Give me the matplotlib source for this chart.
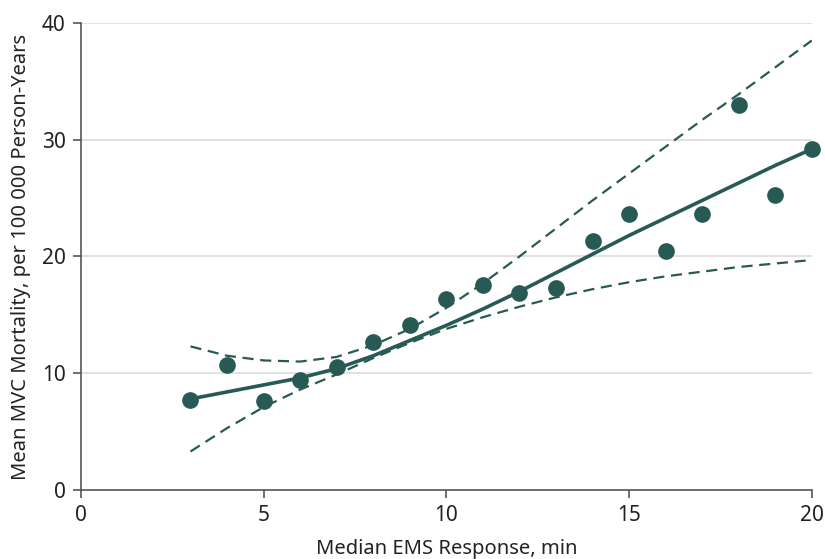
import matplotlib.pyplot as plt

plt.rcParams['font.family'] = ['Noto Sans', 'DejaVu Sans']

# observed means by median EMS response time
minutes = [3, 4, 5, 6, 7, 8, 9, 10, 11, 12, 13, 14, 15, 16, 17, 18, 19, 20]
mortality = [7.7, 10.7, 7.6, 9.4, 10.5, 12.7, 14.1, 16.4, 17.6, 16.9,
             17.3, 21.3, 23.6, 20.5, 23.6, 33.0, 25.3, 29.2]

# fitted curve and 95% CI
fit = [7.8, 8.4, 9.0, 9.6, 10.4, 11.5, 12.8, 14.1, 15.5, 17.0,
       18.6, 20.2, 21.8, 23.3, 24.8, 26.3, 27.8, 29.2]
ci_upper = [12.3, 11.5, 11.1, 11.0, 11.4, 12.4, 13.8, 15.6, 17.7, 20.0,
            22.4, 24.8, 27.1, 29.4, 31.7, 33.9, 36.2, 38.5]
ci_lower = [3.3, 5.3, 7.1, 8.6, 9.9, 11.3, 12.6, 13.8, 14.8, 15.7,
            16.5, 17.2, 17.8, 18.3, 18.7, 19.1, 19.4, 19.7]

col = "#285a55"

fig = plt.figure(figsize=(8.25, 5.59), dpi=100)
ax = fig.add_axes([0.098, 0.1234, 0.886, 0.8355])

for yv in [10, 20, 30, 40]:
    ax.axhline(yv, color="#dcdcdc", lw=1.2, zorder=0)

ax.plot(minutes, fit, color=col, lw=2.6, zorder=2)
ax.plot(minutes, ci_upper, color=col, lw=1.6, ls=(0, (5, 3)), zorder=2)
ax.plot(minutes, ci_lower, color=col, lw=1.6, ls=(0, (5, 3)), zorder=2)
ax.plot(minutes, mortality, "o", color=col, ms=11, clip_on=False, zorder=3)

ax.set_xlim(0, 20)
ax.set_ylim(0, 40)
ax.set_xticks([0, 5, 10, 15, 20])
ax.set_yticks([0, 10, 20, 30, 40])

for s in ["top", "right"]:
    ax.spines[s].set_visible(False)
for s in ["left", "bottom"]:
    ax.spines[s].set_color("#555555")
    ax.spines[s].set_linewidth(1.2)
ax.tick_params(direction="out", length=6, width=1.2, color="#555555",
               labelsize=15, labelcolor="#222222", pad=5)

ax.set_xlabel("Median EMS Response, min", fontsize=14.5, color="#222222", labelpad=9)
ax.set_ylabel("Mean MVC Mortality, per 100 000 Person-Years", fontsize=14.5,
              color="#222222", labelpad=8)

fig.savefig("out.png", dpi=100)
